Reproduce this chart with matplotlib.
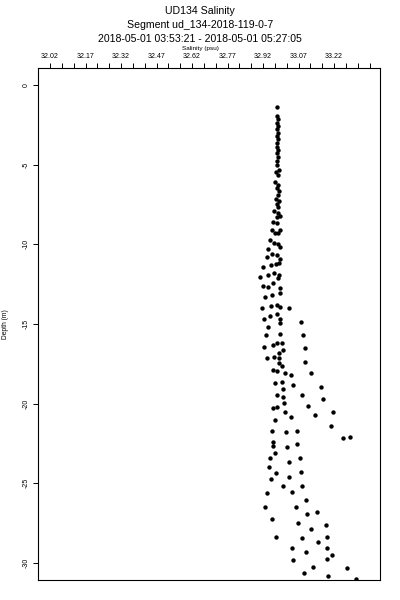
import numpy as np
import matplotlib
matplotlib.use("Agg")
import matplotlib.pyplot as plt
from matplotlib.ticker import FixedLocator

# ── data (salinity psu, depth m) ────────────────────────────────────────────
salinity = [
    32.980, 32.980, 32.985, 32.978, 32.985, 32.980, 32.985, 32.978, 32.985, 32.980,
    32.978, 32.985, 32.978, 32.985, 32.980, 32.978, 32.989, 32.975, 32.985, 32.971,
    32.985, 32.978, 32.989, 32.982, 32.975, 32.989, 32.978, 32.985, 32.968, 32.985,
    32.978, 32.992,
    32.963, 32.980, 32.957, 32.971, 32.992, 32.985, 32.950, 32.966, 32.985, 32.992,
    32.942, 32.959, 32.978, 32.992, 32.936, 32.921, 32.954, 32.974, 32.989, 32.907,
    32.942, 32.968, 32.989, 32.985, 32.921, 32.942, 32.963, 32.992, 32.992, 32.928,
    32.959, 32.914, 32.954, 32.978, 32.992, 33.031, 32.924, 32.950, 32.980, 32.992,
    32.992, 33.079, 32.940, 32.931, 32.992, 33.088,
    32.924, 32.963, 32.980, 32.999, 32.989, 33.006, 33.097, 32.936, 32.968, 32.989,
    32.989, 32.999, 33.097, 32.963, 32.978, 33.013, 33.037, 33.121, 32.971, 33.001,
    33.048, 33.164, 33.006, 32.978, 33.006, 33.083, 33.172, 33.010, 32.961, 32.978,
    33.111, 33.013, 33.217, 32.971, 33.037, 33.140, 33.207, 32.957, 33.016, 33.062,
    33.259, 33.288, 32.961, 32.961, 33.023, 33.065, 32.971, 32.950, 33.076,
    33.031, 32.945, 32.974, 33.030, 33.080, 32.954, 33.003, 33.086, 32.938, 33.041,
    33.102, 32.928, 33.059, 33.105, 33.147, 32.957, 33.069, 33.186, 33.121, 32.975,
    33.083, 33.189, 33.154, 33.041, 33.102, 33.192, 33.210, 33.045, 33.192, 33.132,
    33.276, 33.094, 33.193, 33.313,
]
depth = [
    -1.36, -1.95, -2.16, -2.37, -2.57, -2.78, -2.99, -3.20, -3.41, -3.62,
    -3.87, -4.08, -4.29, -4.54, -4.75, -5.02, -5.34, -5.44, -5.65, -6.07,
    -6.28, -6.48, -6.63, -6.90, -7.16, -7.26, -7.47, -7.68, -7.91, -8.05,
    -8.27, -8.22,
    -8.58, -8.68, -9.10, -9.31, -9.10, -9.31, -9.73, -9.94, -9.98, -10.15,
    -10.29, -10.61, -10.67, -10.94, -10.82, -11.40, -11.30, -11.24, -11.15, -12.03,
    -11.93, -11.82, -11.93, -12.14, -12.62, -12.66, -12.41, -12.76, -13.08, -13.33,
    -13.18, -13.98, -13.87, -13.81, -13.92, -13.98, -14.69, -14.50, -14.37, -14.69,
    -14.96, -14.86, -15.17, -15.69, -15.63, -15.69,
    -16.47, -16.32, -16.18, -16.18, -16.80, -16.63, -16.53, -17.16, -17.09, -17.16,
    -17.43, -17.64, -17.37, -17.89, -17.95, -18.10, -18.20, -18.10, -18.69, -18.62,
    -18.83, -18.94, -19.10, -19.46, -19.57, -19.46, -19.73, -19.94, -20.26, -20.19,
    -20.13, -20.55, -20.55, -21.03, -20.86, -20.73, -21.40, -21.70, -21.80, -21.70,
    -22.14, -22.08, -22.39, -22.66, -22.74, -22.55, -23.12, -23.43, -23.39,
    -23.64, -23.96, -24.34, -24.59, -24.27, -24.73, -25.17, -25.15, -25.59, -25.57,
    -26.05, -26.47, -26.51, -26.95, -26.82, -27.26, -27.47, -27.62, -27.87, -28.35,
    -28.42, -28.35, -28.70, -29.08, -29.33, -29.08, -29.50, -29.82, -29.77, -30.24,
    -30.34, -30.61, -30.80, -31.01,
]

x_major = [32.02, 32.17, 32.32, 32.47, 32.62, 32.77, 32.92, 33.07, 33.22]
x_labels = ["32.02", "32.17", "32.32", "32.47", "32.62", "32.77", "32.92", "33.07", "33.22"]
y_major = [0, -5, -10, -15, -20, -25, -30]

title_lines = ["UD134 Salinity",
               "Segment ud_134-2018-119-0-7",
               "2018-05-01 03:53:21 - 2018-05-01 05:27:05"]

plt.rcParams["font.family"] = ["Liberation Sans", "DejaVu Sans"]

# ── figure ───────────────────────────────────────────────────────────────────
fig = plt.figure(figsize=(4, 6), dpi=100)
ax = fig.add_axes([0.096, 0.0333, 0.854, 0.8534])

ax.scatter(salinity, depth, s=10, c="black", marker="o", linewidths=0, clip_on=True)

ax.set_xlim(31.9706, 33.414)
ax.set_ylim(-31.07, 1.07)

# x axis on top, with minor ticks every 0.05
ax.xaxis.tick_top()
ax.set_xticks(x_major)
ax.set_xticklabels(x_labels, fontsize=5)
minor = [32.02 + 0.05 * i for i in range(28)]
ax.xaxis.set_minor_locator(FixedLocator(minor))
ax.tick_params(axis="x", which="both", direction="out", length=3.6, width=0.7,
               pad=2.5, top=True, bottom=False)

ax.set_yticks(y_major)
ax.set_yticklabels([str(v) for v in y_major], fontsize=5, rotation=90, va="center")
ax.tick_params(axis="y", which="both", direction="out", length=3.6, width=0.7,
               pad=2.5, left=True, right=False)

for side in ["left", "top", "right", "bottom"]:
    ax.spines[side].set_linewidth(0.8)

# titles and axis labels
for i, line in enumerate(title_lines):
    fig.text(0.5, 1 - (11.0 + 14.2 * i) / 600, line, ha="center", va="center", fontsize=7.6)
fig.text(0.5, 1 - 48.6 / 600, "Salinity (psu)", ha="center", va="center", fontsize=4.6)
fig.text(5.5 / 400, 1 - 324 / 600, "Depth (m)", ha="center", va="center",
         rotation=90, fontsize=4.8)

fig.savefig("out.png", dpi=100)
